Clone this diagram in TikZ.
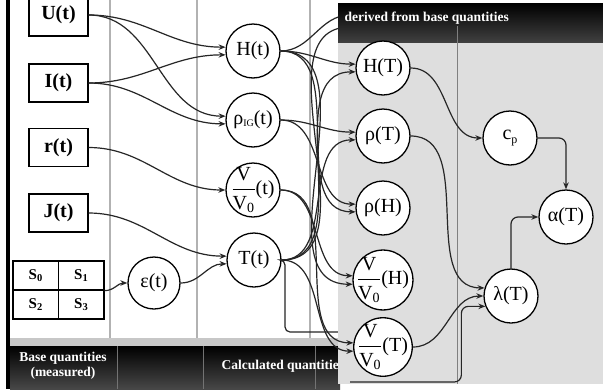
\documentclass[tikz,border=0pt]{standalone}
\usepackage{fontspec}
\setmainfont{Liberation Serif}
\usetikzlibrary{arrows.meta,shapes.geometric}
\begin{document}
\begin{tikzpicture}[x=1pt,y=-1pt,
  conn/.style={draw=black!85, line width=1.2pt},
  arr/.style={conn, -{Stealth[length=7pt,width=5.5pt]}},
  qbox/.style={draw, line width=1.3pt, minimum width=59pt, minimum height=38pt, inner sep=0pt, fill=white, font=\fontsize{20}{22}\selectfont\bfseries},
  qty/.style={draw, circle, line width=1.3pt, minimum size=54pt, inner sep=0pt, fill=white, font=\fontsize{20}{22}\selectfont},
  fracq/.style={qty, inner sep=-3pt},
  scell/.style={draw, line width=1.3pt, minimum width=45.5pt, minimum height=29pt, inner sep=0pt, font=\fontsize{15}{16}\selectfont\bfseries},
  gline/.style={draw=black!30, line width=1.3pt},
  hdr/.style={text=white, font=\fontsize{13.5}{15}\selectfont\bfseries},
]
\useasboundingbox (0,0) rectangle (603,389);
\clip (0,0) rectangle (603,389);
\fill[white] (0,0) rectangle (603,389);
\fill[black] (6,0) rectangle (10,389);
% column lines
\draw[gline] (110,0) -- (110,338);
\draw[gline] (197,0) -- (197,338);
\draw[gline] (310,0) -- (310,338);
% footer
\fill[black!22] (10,338) rectangle (340,346);
\shade[top color=black, bottom color=black!72] (10,346) rectangle (340,389);
\draw[black!55, line width=0.8pt] (117,346) -- (117,389);
\draw[black!55, line width=0.8pt] (203,346) -- (203,389);
\draw[black!55, line width=0.8pt] (315,346) -- (315,389);
\node[hdr, align=center] (bq) at (63,366) {Base quantities\\(measured)};
\node[hdr, anchor=west] (cq) at (218,366) {Calculated quantities};
% base quantities
\node[qbox, minimum height=42pt] (U) at (58.5,15) {U(t)};
\node[qbox] (I) at (58.5,83) {I(t)};
\node[qbox] (r) at (58.5,147.5) {r(t)};
\node[qbox] (J) at (58.5,213) {J(t)};
\node[scell] (s0) at (35.75,275.5) {S\textsubscript{0}};
\node[scell] (s1) at (81.25,275.5) {S\textsubscript{1}};
\node[scell] (s2) at (35.75,304.5) {S\textsubscript{2}};
\node[scell] (s3) at (81.25,304.5) {S\textsubscript{3}};
% calculated quantities
\node[qty, minimum size=52pt] (eps) at (154,283) {ε(t)};
\node[qty] (Ht) at (253,51) {H(t)};
\node[qty] (rt) at (253,120) {ρ\raisebox{-1.5pt}{\fontsize{10}{10}\selectfont IG}(t)};
\node[fracq] (Vt) at (253,190) {$\displaystyle\frac{\mbox{V}}{\mbox{V\textsubscript{0}}}$(t)};
\node[qty] (Tt) at (254,260) {T(t)};
\draw[arr] (U.east) to[out=0,in=180] (Ht.172);
\draw[arr] (U.east) to[out=0,in=180] (rt.172);
\draw[arr] (I.east) to[out=0,in=180] (Ht.188);
\draw[arr] (I.east) to[out=0,in=180] (rt.188);
\draw[arr] (r.east) to[out=0,in=180] (Vt.west);
\draw[arr] (J.east) to[out=0,in=180] (Tt.172);
\draw[arr] (eps.east) to[out=0,in=180] (Tt.188);
\draw[arr] (s1.south east) to[out=0,in=180] (eps.west);
% connectors passing under the overlay
\coordinate (hidA) at (350,15);
\coordinate (hidB) at (350,27);
\coordinate (tl1) at (350,382);
\draw[conn] (Ht.east) to[out=0,in=180] (hidA);
\draw[conn] (Tt.east) to[out=0,in=180] (hidB);
\draw[conn, rounded corners=5pt] (Tt.east) -| (285,332) -- (350,332) -- (tl1);
% derived region
\fill[black!13] (338,3) rectangle (603,384);
\shade[top color=black, bottom color=black!75] (338,3) rectangle (603,42);
\node[hdr, anchor=west] (dh) at (341,18) {derived from base quantities};
\draw[black!50, line width=1pt] (457,26) -- (457,384);
\node[qty] (HT) at (383,68) {H(T)};
\node[qty] (rT) at (383,136) {ρ(T)};
\node[qty] (rH) at (383,208) {ρ(H)};
\node[fracq] (VH) at (383,280) {$\displaystyle\frac{\mbox{V}}{\mbox{V\textsubscript{0}}}$(H)};
\node[fracq] (VT) at (383,347) {$\displaystyle\frac{\mbox{V}}{\mbox{V\textsubscript{0}}}$(T)};
\node[qty] (cp) at (510,138) {c\raisebox{-4pt}{\fontsize{12}{12}\selectfont p}};
\node[qty] (aT) at (566,217) {α(T)};
\node[qty] (lT) at (511,296) {λ(T)};
\draw[arr] (Ht.east) to[out=0,in=180] (HT.172);
\draw[arr] (Tt.east) to[out=0,in=180] (HT.188);
\draw[arr] (rt.east) to[out=0,in=180] (rT.172);
\draw[arr] (Tt.east) to[out=0,in=180] (rT.188);
\draw[arr] (rt.east) to[out=0,in=180] (rH.172);
\draw[arr] (Ht.east) to[out=0,in=180] (rH.188);
\draw[arr] (Vt.east) to[out=0,in=180] (VH.172);
\draw[arr] (Ht.east) to[out=0,in=180] (VH.188);
\draw[arr] (Vt.east) to[out=0,in=180] (VT.172);
\draw[arr] (Tt.east) to[out=0,in=180] (VT.188);
\draw[arr] (HT.east) to[out=0,in=180] (cp.west);
\draw[arr] (rT.east) to[out=0,in=180] (lT.163);
\draw[arr] (VT.east) to[out=0,in=180] (lT.west);
\draw[arr, rounded corners=7pt] (tl1) -| ([xshift=-24pt]lT.202) -- (lT.202);
\draw[arr, rounded corners=7pt] (cp.east) -| (aT.north);
\draw[arr, rounded corners=7pt] (lT.north) |- (aT.west);
\end{tikzpicture}
\end{document}
